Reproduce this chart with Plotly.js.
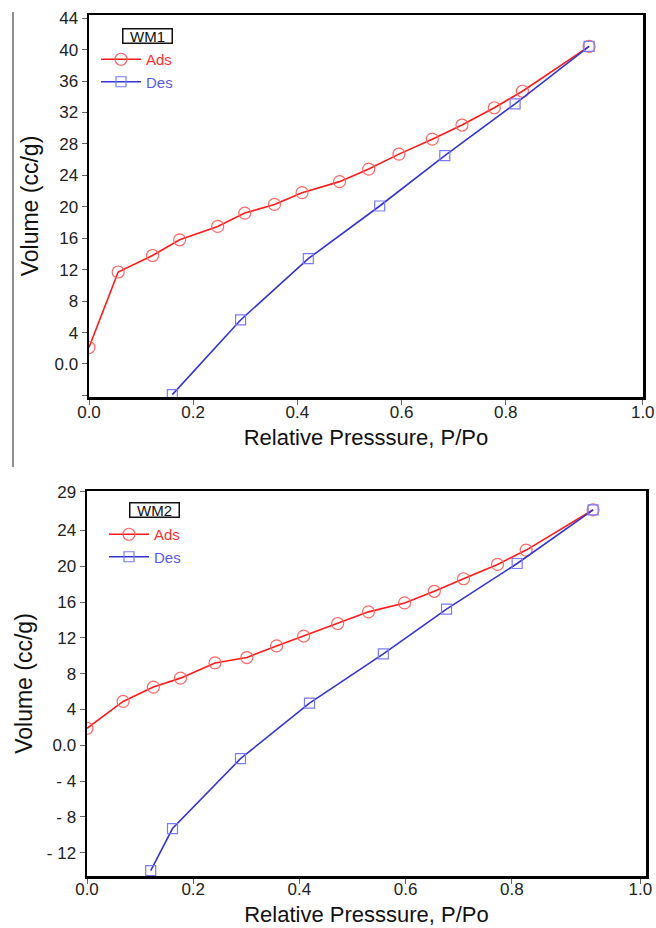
<!DOCTYPE html>
<html>
<head>
<meta charset="utf-8">
<script src="https://cdn.plot.ly/plotly-3.0.1.min.js"></script>
<style>html,body{margin:0;padding:0;background:#fff;}#chart{width:656px;height:928px;}</style>
</head>
<body>
<div id="chart"></div>
<script>
// ---- WM1 data ----
const wm1AdsX = [0.0, 0.056, 0.122, 0.174, 0.247, 0.299, 0.356, 0.409, 0.481, 0.537, 0.595, 0.659, 0.716, 0.778, 0.832, 0.960];
const wm1AdsY = [2.1, 11.7, 13.8, 15.8, 17.5, 19.2, 20.3, 21.8, 23.2, 24.8, 26.7, 28.6, 30.4, 32.6, 34.7, 40.4];
const wm1DesX = [0.960, 0.818, 0.683, 0.558, 0.421, 0.291, 0.160];
const wm1DesY = [40.4, 33.1, 26.5, 20.1, 13.4, 5.6, -3.9];
// ---- WM2 data ----
const wm2AdsX = [0.0, 0.068, 0.125, 0.176, 0.241, 0.301, 0.357, 0.408, 0.472, 0.530, 0.598, 0.654, 0.709, 0.773, 0.827, 0.953];
const wm2AdsY = [1.9, 4.9, 6.5, 7.5, 9.2, 9.8, 11.1, 12.2, 13.6, 14.9, 15.9, 17.2, 18.6, 20.2, 21.8, 26.3];
const wm2DesX = [0.953, 0.810, 0.677, 0.558, 0.419, 0.289, 0.161, 0.120];
const wm2DesY = [26.3, 20.3, 15.2, 10.2, 4.7, -1.5, -9.3, -14.0];

// ---- tick labels ----
const xTickVals1 = [0, 0.2, 0.4, 0.6, 0.8, 1.063];
const xTickVals2 = [0, 0.2, 0.4, 0.6, 0.8, 1.042];
const xTickText = ["0.0", "0.2", "0.4", "0.6", "0.8", "1.0"];
const yTickVals1 = [-4, 0, 4, 8, 12, 16, 20, 24, 28, 32, 36, 40, 44];
const yTickText1 = ["", "0.0", "4", "8", "12", "16", "20", "24", "28", "32", "36", "40", "44"];
const yTickVals2 = [-12, -8, -4, 0, 4, 8, 12, 16, 20, 24, 28.3];
const yTickText2 = ["- 12", "- 8", "- 4", "0.0", "4", "8", "12", "16", "20", "24", "29"];

const RED = '#ff1a1a';
const BLUE = '#3434d4';
const W = 656, H = 928;
const px = v => v / W;
const py = v => 1 - v / H;

const adsStyle = {mode: 'lines+markers', line: {color: RED, width: 1.6},
  marker: {symbol: 'circle-open', size: 12, color: '#ff6666', line: {width: 1.2}}};
const desStyle = {mode: 'lines+markers', line: {color: BLUE, width: 1.6},
  marker: {symbol: 'square-open', size: 10, color: '#7a7aff', line: {width: 1.2}}};

const traces = [
  Object.assign({x: wm1AdsX, y: wm1AdsY, xaxis: 'x', yaxis: 'y', legend: 'legend',
    name: '<span style="color:#ff3030">Ads</span>'}, adsStyle),
  Object.assign({x: wm1DesX, y: wm1DesY, xaxis: 'x', yaxis: 'y', legend: 'legend',
    name: '<span style="color:#5a5af0">Des</span>'}, desStyle),
  Object.assign({x: wm2AdsX, y: wm2AdsY, xaxis: 'x2', yaxis: 'y2', legend: 'legend2',
    name: '<span style="color:#ff3030">Ads</span>'}, adsStyle),
  Object.assign({x: wm2DesX, y: wm2DesY, xaxis: 'x2', yaxis: 'y2', legend: 'legend2',
    name: '<span style="color:#5a5af0">Des</span>'}, desStyle)
];

const FONT = 'Liberation Sans, Arial, sans-serif';
const axisCommon = {
  showline: true, linecolor: '#000', linewidth: 2.5, mirror: true,
  ticks: 'outside', ticklen: 5, tickwidth: 1, tickcolor: '#666',
  showgrid: false, zeroline: false, tickmode: 'array', ticklabeloverflow: 'allow',
  tickfont: {family: FONT, size: 17, color: '#222'}
};
const xTitleFont = {family: FONT, size: 22, color: '#111'};
const yTitleFont = {family: FONT, size: 23, color: '#111'};

const layout = {
  width: W, height: H,
  margin: {l: 0, r: 0, t: 0, b: 0},
  paper_bgcolor: '#fff', plot_bgcolor: '#fff',
  font: {family: FONT},
  xaxis: Object.assign({}, axisCommon, {domain: [px(89), px(643)], range: [0, 1.0635], anchor: 'y',
    tickvals: xTickVals1, ticktext: xTickText, ticklabelstandoff: -7,
    title: {text: 'Relative Presssure, P/Po', font: xTitleFont, standoff: 9}}),
  yaxis: Object.assign({}, axisCommon, {domain: [py(397), py(15)], range: [-4.2, 44.4], anchor: 'x',
    tickvals: yTickVals1, ticktext: yTickText1,
    title: {text: 'Volume (cc/g)', font: yTitleFont, standoff: 10}}),
  xaxis2: Object.assign({}, axisCommon, {domain: [px(87), px(646)], range: [0, 1.0526], anchor: 'y2',
    tickvals: xTickVals2, ticktext: xTickText, ticklabelstandoff: -9,
    title: {text: 'Relative Presssure, P/Po', font: xTitleFont, standoff: 9}}),
  yaxis2: Object.assign({}, axisCommon, {domain: [py(876), py(491)], range: [-14.6, 28.4], anchor: 'x2',
    tickvals: yTickVals2, ticktext: yTickText2,
    title: {text: 'Volume (cc/g)', font: yTitleFont, standoff: 8}}),
  legend: {x: px(96), y: py(43), xanchor: 'left', yanchor: 'top', bgcolor: 'rgba(0,0,0,0)',
    borderwidth: 0, itemwidth: 40, font: {family: FONT, size: 15}, tracegroupgap: 0},
  legend2: {x: px(104), y: py(518), xanchor: 'left', yanchor: 'top', bgcolor: 'rgba(0,0,0,0)',
    borderwidth: 0, itemwidth: 40, font: {family: FONT, size: 15}, tracegroupgap: 0},
  showlegend: true,
  annotations: [
    {text: 'WM1', xref: 'paper', yref: 'paper', x: px(147), y: py(35.5), xanchor: 'center', yanchor: 'middle',
      showarrow: false, font: {family: FONT, size: 15, color: '#111'}, width: 48, height: 13,
      bordercolor: '#111', borderwidth: 1.5, borderpad: 0},
    {text: 'WM2', xref: 'paper', yref: 'paper', x: px(154), y: py(510), xanchor: 'center', yanchor: 'middle',
      showarrow: false, font: {family: FONT, size: 15, color: '#111'}, width: 48, height: 13,
      bordercolor: '#111', borderwidth: 1.5, borderpad: 0}
  ],
  shapes: [
    {type: 'line', xref: 'paper', yref: 'paper', x0: px(13), x1: px(13), y0: py(467), y1: py(12),
      line: {color: '#444', width: 1.2}}
  ]
};

Plotly.newPlot('chart', traces, layout, {staticPlot: true, displayModeBar: false});
</script>
</body>
</html>
